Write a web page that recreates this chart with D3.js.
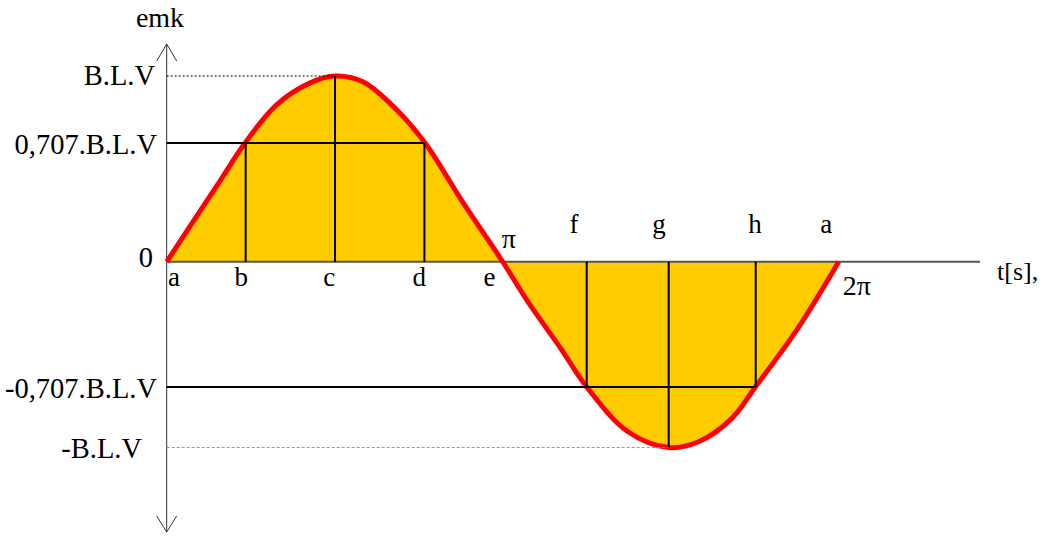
<!DOCTYPE html>
<html>
<head>
<meta charset="utf-8">
<script src="https://cdn.jsdelivr.net/npm/d3@7"></script>
<style>
  html, body { margin: 0; padding: 0; background: #fff; }
  svg { display: block; }
  text { font-family: "Liberation Serif", "Times New Roman", serif; fill: #000; }
</style>
</head>
<body>
<svg id="chart" width="1041" height="536"></svg>
<script>
// Curve samples (phase in units of π, emk relative to B.L.V)
const phase = [0, 0.159, 0.233, 0.327, 0.427, 0.501, 0.584, 0.685, 0.769, 0.882, 1.0,
               1.075, 1.176, 1.25, 1.373, 1.494, 1.583, 1.682, 1.752, 1.879, 2.0];
const emk   = [0, 0.436, 0.639, 0.845, 0.963, 1.0, 0.969, 0.817, 0.639, 0.318, 0,
               -0.215, -0.475, -0.674, -0.915, -1.0, -0.969, -0.843, -0.674, -0.357, 0];

// Level labels on the y axis
const levelLabels = ["B.L.V", "0,707.B.L.V", "0", "-0,707.B.L.V", "-B.L.V"];
const levelValues = [1, 0.639, 0, -0.674, -1];

// Marked points (vertical lines) and their letters
const markLetters = ["b", "c", "d", "f", "g", "h"];
const markPhase   = [0.235, 0.501, 0.767, 1.25, 1.494, 1.753];
const markLevel   = [0.639, 1, 0.639, -0.674, -1, -0.674];

// Letters along the time axis
const axisLetters = ["a", "b", "c", "d", "e", "f", "g", "h", "a"];
const axisLetterPhase = [0.022, 0.222, 0.484, 0.752, 0.961, 1.212, 1.465, 1.751, 1.963];
const axisLetterSide  = ["below", "below", "below", "below", "below", "above", "above", "above", "above"];

const piLabels = ["π", "2π"];
const piPhase  = [1.0, 2.0];

const svg = d3.select("#chart");
const x = d3.scaleLinear().domain([0, 2]).range([166.7, 838.7]);
const y = d3.scaleLinear().domain([-1, 1]).range([447.5, 76]);

const pts = phase.map((p, i) => [p, emk[i]]);
const curve = d3.curveCatmullRom.alpha(0.5);

// filled area
const area = d3.area().x(d => x(d[0])).y0(y(0)).y1(d => y(d[1])).curve(curve);
svg.append("path").datum(pts).attr("d", area).attr("fill", "#FFCC00");

// x axis line
svg.append("line").attr("x1", x(0)).attr("x2", 980).attr("y1", y(0)).attr("y2", y(0))
  .attr("stroke", "#555").attr("stroke-width", 2);

// y axis with arrows
const axisX = x(0);
svg.append("line").attr("x1", axisX).attr("x2", axisX).attr("y1", 44).attr("y2", 532)
  .attr("stroke", "#333").attr("stroke-width", 1);
svg.append("path").attr("d", `M${axisX - 10},61 L${axisX},44 L${axisX + 10},61`)
  .attr("fill", "none").attr("stroke", "#333").attr("stroke-width", 1);
svg.append("path").attr("d", `M${axisX - 10},516 L${axisX},532 L${axisX + 10},516`)
  .attr("fill", "none").attr("stroke", "#333").attr("stroke-width", 1);

// red curve
const line = d3.line().x(d => x(d[0])).y(d => y(d[1])).curve(curve);
svg.append("path").datum(pts).attr("d", line).attr("fill", "none")
  .attr("stroke", "#FF0000").attr("stroke-width", 5).attr("stroke-linejoin", "round");

// dotted lines to peaks
svg.append("line").attr("x1", axisX).attr("x2", x(markPhase[1])).attr("y1", y(1)).attr("y2", y(1))
  .attr("stroke", "#000").attr("stroke-width", 1).attr("stroke-dasharray", "2,2");
svg.append("line").attr("x1", axisX).attr("x2", x(markPhase[4])).attr("y1", y(-1)).attr("y2", y(-1))
  .attr("stroke", "#999").attr("stroke-width", 1.2).attr("stroke-dasharray", "3,2");

// solid horizontal 0.707 lines
svg.append("line").attr("x1", axisX).attr("x2", x(markPhase[2])).attr("y1", y(levelValues[1])).attr("y2", y(levelValues[1]))
  .attr("stroke", "#000").attr("stroke-width", 2);
svg.append("line").attr("x1", axisX).attr("x2", x(markPhase[5])).attr("y1", y(levelValues[3])).attr("y2", y(levelValues[3]))
  .attr("stroke", "#000").attr("stroke-width", 2);

// vertical lines
svg.selectAll("line.mark").data(markPhase).enter().append("line").attr("class", "mark")
  .attr("x1", d => x(d)).attr("x2", d => x(d))
  .attr("y1", y(0)).attr("y2", (d, i) => y(markLevel[i]))
  .attr("stroke", "#000").attr("stroke-width", 2);

// y labels
const labelOffsets = [9, 11, 5, 11, 10];
const labelRight = [155, 157, 153, 157, 142];
svg.selectAll("text.lvl").data(levelLabels).enter().append("text").attr("class", "lvl")
  .attr("x", (d, i) => labelRight[i]).attr("y", (d, i) => y(levelValues[i]) + labelOffsets[i])
  .attr("text-anchor", "end").attr("font-size", 28.5).text(d => d);

// axis letters
svg.selectAll("text.al").data(axisLetters).enter().append("text").attr("class", "al")
  .attr("x", (d, i) => x(axisLetterPhase[i])).attr("y", (d, i) => axisLetterSide[i] === "below" ? 286 : 233)
  .attr("text-anchor", "middle").attr("font-size", 27).text(d => d);

// π labels
svg.append("text").attr("x", x(piPhase[0]) + 6).attr("y", 248).attr("text-anchor", "middle")
  .attr("font-size", 28).text(piLabels[0]);
svg.append("text").attr("x", x(piPhase[1]) + 18).attr("y", 295).attr("text-anchor", "middle")
  .attr("font-size", 28).text(piLabels[1]);

// axis titles
svg.append("text").attr("x", 160).attr("y", 27).attr("text-anchor", "middle").attr("font-size", 28).text("emk");
svg.append("text").attr("x", 997).attr("y", 280).attr("font-size", 26).text("t[s],");
</script>
</body>
</html>
